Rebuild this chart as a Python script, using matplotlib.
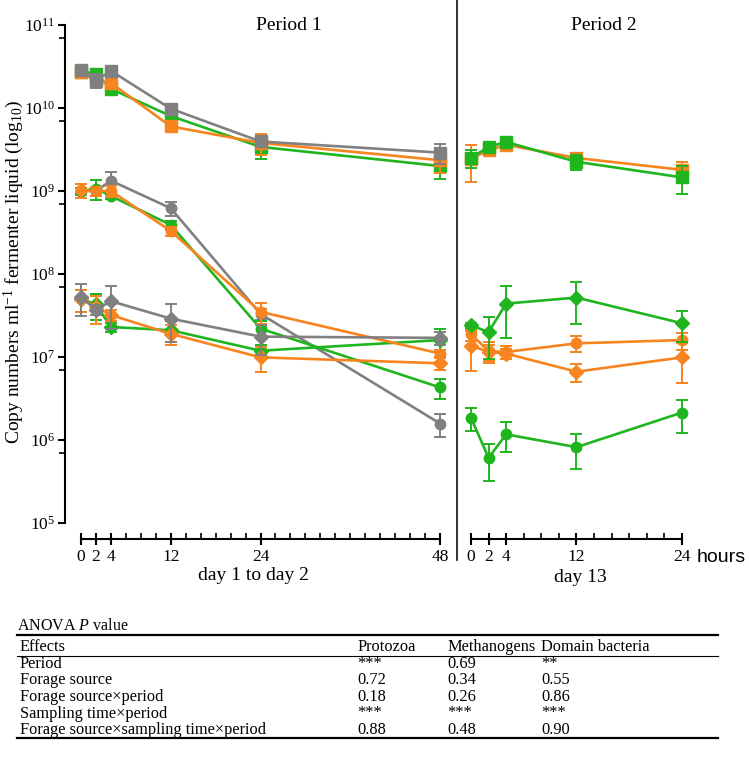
import matplotlib.pyplot as plt
from matplotlib.lines import Line2D
from matplotlib.ticker import FixedLocator, NullFormatter

plt.rcParams['font.family'] = ['Liberation Serif', 'DejaVu Serif']
plt.rcParams['mathtext.fontset'] = 'custom'
plt.rcParams['mathtext.rm'] = 'Liberation Serif'
plt.rcParams['mathtext.it'] = 'Liberation Serif:italic'

# sampling times (hours)
hours_p1 = [0, 2, 4, 12, 24, 48]
hours_p2 = [0, 2, 4, 12, 24]

# period 1, copy numbers per ml (mean, SE)
bact_p1_green = [2.75e10, 2.6e10, 1.7e10, 8.0e9, 3.4e9, 2.0e9]
bact_p1_green_se = [1e9, 2.5e9, 1.5e9, 6e8, 1.0e9, 6e8]
bact_p1_orange = [2.75e10, 2.1e10, 2.0e10, 6.0e9, 3.8e9, 2.35e9]
bact_p1_orange_se = [1e9, 3e9, 3e9, 5e8, 1.1e9, 7e8]
bact_p1_gray = [2.85e10, 2.15e10, 2.8e10, 9.8e9, 3.95e9, 2.9e9]
bact_p1_gray_se = [1e9, 4e9, 3.5e9, 8e8, 5e8, 8e8]

meth_p1_green = [1.0e9, 1.07e9, 8.7e8, 3.9e8, 2.2e7, 4.3e6]
meth_p1_green_se = [8e7, 3e8, 6e7, 5e7, 5e6, 1.2e6]
meth_p1_orange = [1.02e9, 1.0e9, 1.0e9, 3.3e8, 3.5e7, 1.1e7]
meth_p1_orange_se = [1.9e8, 1.2e8, 1.5e8, 4e7, 1e7, 1.3e6]
meth_p1_gray = [1.0e9, 1.0e9, 1.33e9, 6.2e8, 3.3e7, 1.58e6]
meth_p1_gray_se = [1e8, 1.2e8, 3.8e8, 1.2e8, 5e6, 4.8e5]

prot_p1_green = [5.0e7, 4.3e7, 2.3e7, 2.1e7, 1.19e7, 1.6e7]
prot_p1_green_se = [1.5e7, 1.5e7, 3e6, 6e6, 2e6, 6e6]
prot_p1_orange = [5.0e7, 4.0e7, 3.2e7, 1.9e7, 9.9e6, 8.4e6]
prot_p1_orange_se = [1.5e7, 1.5e7, 5e6, 5e6, 3.3e6, 1.5e6]
prot_p1_gray = [5.3e7, 3.7e7, 4.7e7, 2.9e7, 1.76e7, 1.7e7]
prot_p1_gray_se = [2.2e7, 5e6, 2.5e7, 1.4e7, 7e6, 3e6]

# period 2
bact_p2_green = [2.5e9, 3.4e9, 3.9e9, 2.25e9, 1.46e9]
bact_p2_green_se = [6.3e8, 4e8, 2e8, 4.8e8, 5.5e8]
bact_p2_orange = [2.45e9, 3.1e9, 3.6e9, 2.5e9, 1.8e9]
bact_p2_orange_se = [1.15e9, 3e8, 2e8, 3e8, 4.2e8]

meth_p2_green = [1.86e6, 6.1e5, 1.17e6, 8.2e5, 2.14e6]
meth_p2_green_se = [5.7e5, 2.9e5, 4.6e5, 3.7e5, 9.3e5]
meth_p2_orange = [1.88e7, 1.18e7, 1.15e7, 1.46e7, 1.6e7]
meth_p2_orange_se = [3e6, 3.3e6, 2e6, 3.2e6, 3.7e6]

prot_p2_green = [2.4e7, 2.0e7, 4.4e7, 5.2e7, 2.55e7]
prot_p2_green_se = [1.5e6, 1.05e7, 2.7e7, 2.7e7, 1.05e7]
prot_p2_orange = [1.37e7, 1.15e7, 1.1e7, 6.65e6, 9.9e6]
prot_p2_orange_se = [7e6, 2.5e6, 1.5e6, 1.7e6, 5e6]

# ANOVA table
table_cols = ["Effects", "Protozoa", "Methanogens", "Domain bacteria"]
table_rows = [
    ["Period", "***", "0.69", "**"],
    ["Forage source", "0.72", "0.34", "0.55"],
    ["Forage source\u00d7period", "0.18", "0.26", "0.86"],
    ["Sampling time\u00d7period", "***", "***", "***"],
    ["Forage source\u00d7sampling time\u00d7period", "0.88", "0.48", "0.90"],
]

GREEN = "#1fb51f"
ORANGE = "#f7841e"
GRAY = "#808080"

W, H = 749, 757


def fx(px):
    return px / W


def fy(py):
    return 1 - py / H


fig = plt.figure(figsize=(W / 100, H / 100), dpi=100)
ax1 = fig.add_axes([fx(65), fy(523), fx(457) - fx(65), fy(25) - fy(523)])
ax2 = fig.add_axes([fx(457), fy(523), fx(700) - fx(457), fy(25) - fy(523)])


def draw(ax, x, y, se, color, marker, ms, z):
    ax.errorbar(x, y, yerr=se, color=color, marker=marker, ms=ms, mec=color,
                lw=1.9, elinewidth=1.4, capsize=4.5, capthick=1.4,
                clip_on=False, zorder=z)


p1 = [
    (bact_p1_green, bact_p1_green_se, GREEN, "s", 8, 3),
    (bact_p1_orange, bact_p1_orange_se, ORANGE, "s", 8, 4),
    (bact_p1_gray, bact_p1_gray_se, GRAY, "s", 8, 5),
    (meth_p1_gray, meth_p1_gray_se, GRAY, "o", 7.5, 3),
    (meth_p1_green, meth_p1_green_se, GREEN, "o", 7.5, 4),
    (meth_p1_orange, meth_p1_orange_se, ORANGE, "o", 7.5, 5),
    (prot_p1_green, prot_p1_green_se, GREEN, "D", 7, 3),
    (prot_p1_orange, prot_p1_orange_se, ORANGE, "D", 7, 4),
    (prot_p1_gray, prot_p1_gray_se, GRAY, "D", 7, 5),
]
for y, se, c, m, ms, z in p1:
    draw(ax1, hours_p1, y, se, c, m, ms, z)

p2 = [
    (bact_p2_orange, bact_p2_orange_se, ORANGE, "s", 8, 3),
    (bact_p2_green, bact_p2_green_se, GREEN, "s", 8, 4),
    (meth_p2_orange, meth_p2_orange_se, ORANGE, "o", 7.5, 3),
    (meth_p2_green, meth_p2_green_se, GREEN, "o", 7.5, 4),
    (prot_p2_orange, prot_p2_orange_se, ORANGE, "D", 7, 3),
    (prot_p2_green, prot_p2_green_se, GREEN, "D", 7, 4),
]
for y, se, c, m, ms, z in p2:
    draw(ax2, hours_p2, y, se, c, m, ms, z)

for ax in (ax1, ax2):
    ax.set_yscale("log")
    ax.set_ylim(1e5, 1e11)
    ax.spines["top"].set_visible(False)
    ax.spines["right"].set_visible(False)
    ax.spines["bottom"].set_position(("outward", 11.5))
    ax.spines["bottom"].set_linewidth(1.5)
    ax.set_facecolor("none")
    ax.tick_params(axis="x", which="major", direction="inout", length=8, width=1.5,
                   labelsize=12.5, pad=3)
    ax.tick_params(axis="x", which="minor", direction="in", length=4, width=1.2)

ax1.set_xlim(-2.14, 50.27)
ax1.spines["bottom"].set_bounds(0, 48)
ax1.set_xticks(hours_p1)
ax1.xaxis.set_minor_locator(FixedLocator(range(0, 49, 2)))
ax1.spines["left"].set_linewidth(1.5)
ax1.spines["left"].set_bounds(1e5, 1e11)
ax1.yaxis.set_major_locator(FixedLocator([10.0 ** k for k in range(5, 12)]))
ax1.yaxis.set_minor_locator(FixedLocator([0.69 * 10.0 ** k for k in range(6, 12)]))
ax1.yaxis.set_minor_formatter(NullFormatter())
ax1.tick_params(axis="y", which="major", direction="out", length=5, width=1.5,
                labelsize=12.5, pad=2)
ax1.tick_params(axis="y", which="minor", direction="out", length=4, width=1.2)

ax2.set_xlim(-1.59, 26.05)
ax2.spines["bottom"].set_bounds(0, 24)
ax2.set_xticks(hours_p2)
ax2.xaxis.set_minor_locator(FixedLocator(range(0, 25, 2)))
ax2.spines["left"].set_visible(False)
ax2.tick_params(axis="y", which="both", left=False, labelleft=False)

# divider between the two periods
fig.add_artist(Line2D([fx(457), fx(457)], [fy(0), fy(560)], color="#222222", lw=1.3))

fig.text(fx(289), fy(26), "Period 1", ha="center", va="center", fontsize=14)
fig.text(fx(604), fy(26), "Period 2", ha="center", va="center", fontsize=14)
fig.text(fx(253), fy(575), "day 1 to day 2", ha="center", va="center", fontsize=14)
fig.text(fx(580), fy(577), "day 13", ha="center", va="center", fontsize=14)
fig.text(fx(697), fy(557), "hours", ha="left", va="center", fontsize=14,
         family="Liberation Sans")
fig.text(fx(14), fy(272), "Copy numbers ml$^{-1}$ fermenter liquid (log$_{10}$)",
         rotation=90, ha="center", va="center", fontsize=14)

# ANOVA table under the plot
fig.text(fx(17), fy(626), "ANOVA $P$ value", ha="left", va="center", fontsize=11.5)
for yy, lw in [(635, 1.6), (656, 0.8), (738, 1.6)]:
    fig.add_artist(Line2D([fx(17), fx(718)], [fy(yy), fy(yy)], color="black", lw=lw))
col_x = [20, 357, 447, 541]
for cx, txt in zip(col_x, table_cols):
    fig.text(fx(cx), fy(647), txt, ha="left", va="center", fontsize=11.8)
for i, row in enumerate(table_rows):
    ry = 664 + i * 16.5
    for cx, txt in zip(col_x, row):
        fig.text(fx(cx), fy(ry), txt, ha="left", va="center", fontsize=11.8)

fig.savefig("out.png", dpi=100)
